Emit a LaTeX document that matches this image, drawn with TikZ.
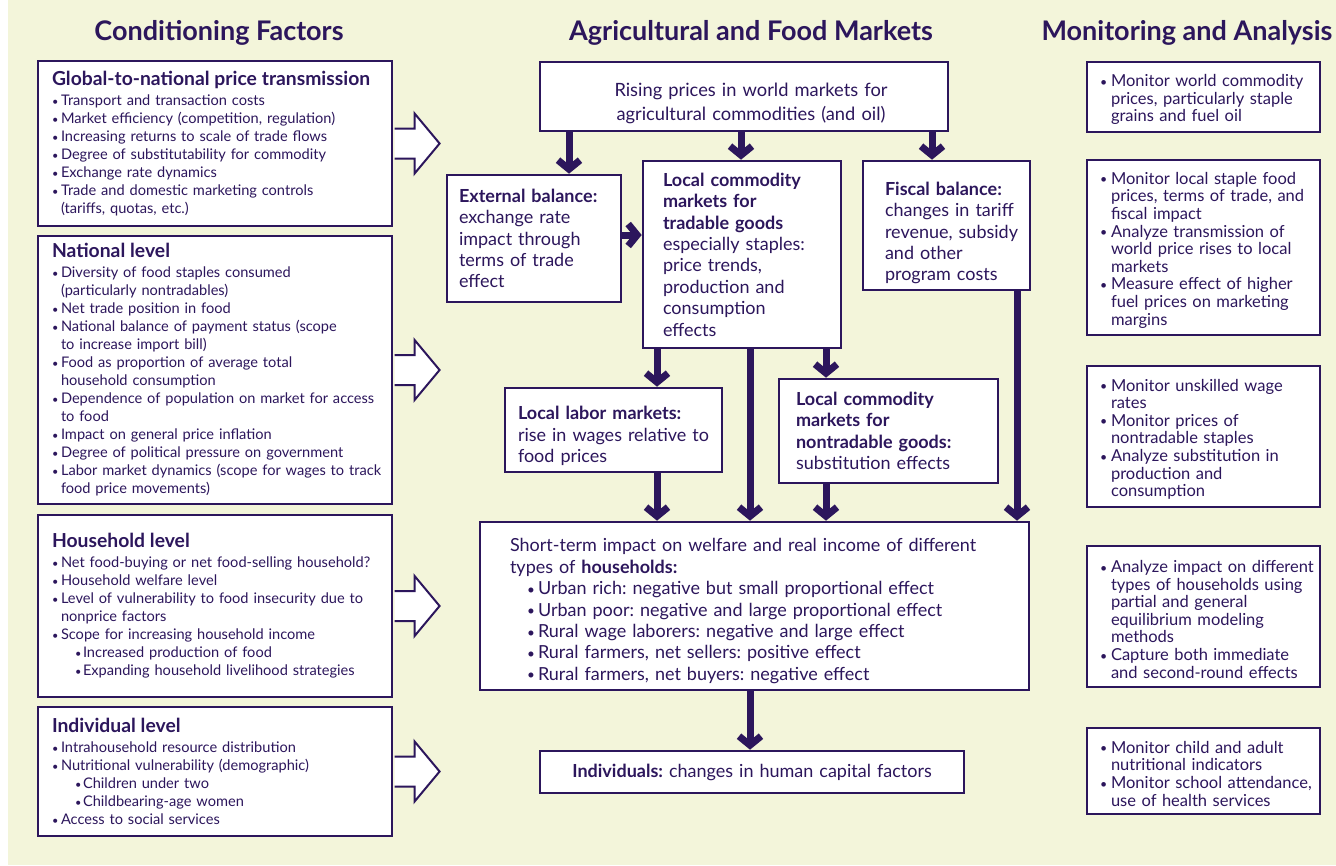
\documentclass[tikz,border=0pt]{standalone}
\usepackage{fontspec}
\setmainfont{Lato}
\usetikzlibrary{arrows.meta}
\definecolor{dk}{RGB}{44,22,92}
\definecolor{bgc}{RGB}{243,245,218}
\newcommand\bul{\raisebox{0.4pt}{\scalebox{0.75}{\textbullet}}}
\newcommand\bl[2][9pt]{\par\noindent\hangindent=#1\hangafter=1\hbox to #1{\bul\hfil}#2}
\newcommand\sbl[1]{\par\noindent\hskip23pt\hbox to 8pt{\bul\hfil}#1}
\newcommand\hbl[1]{\par\noindent\hskip17pt\hbox to 11pt{\bul\hfil}#1}
\newcommand\ltitle[1]{{\fontsize{19.3}{20}\selectfont\bfseries #1\par}\vskip2pt}
\newcommand\lfnt{\fontsize{14.6}{18}\selectfont\parindent=0pt\frenchspacing}
\newcommand\mfnt{\fontsize{18}{21.4}\selectfont\parindent=0pt\frenchspacing}
\newcommand\rfnt{\fontsize{16.5}{17.6}\selectfont\parindent=0pt\frenchspacing}
\begin{document}
\begin{tikzpicture}[x=1pt,y=-1pt,
  box/.style={draw=dk, line width=2.6pt, fill=white, text=dk, inner sep=0pt, align=left},
  bx/.style 2 args={box, text width=#1, minimum height=#2},
  hdr/.style={font=\fontsize{27}{30}\selectfont\bfseries, text=dk, inner sep=0pt},
  arr/.style={draw=dk, line width=7pt, -{Straight Barb[length=9pt,width=22pt]}},
  hol/.style={draw=dk, line width=2pt, fill=white, line join=miter}]
\useasboundingbox (0,0) rectangle (1336,865);
\fill[white] (0,0) rectangle (1336,865);
\fill[bgc] (8,0) rectangle (1336,865);

% headers
\node[hdr] (h1) at (219,33) {Conditioning Factors};
\node[hdr] (h2) at (751,33) {Agricultural and Food Markets};
\node[hdr] (h3) at (1187,33) {Monitoring and Analysis};

% left column
\node[bx={354pt}{165pt}, font=\lfnt] (g1) at (215,143.5) {\leftskip=14pt
\ltitle{Global-to-national price transmission}
\bl{Transport and transaction costs}
\bl{Market efficiency (competition, regulation)}
\bl{Increasing returns to scale of trade flows}
\bl{Degree of substitutability for commodity}
\bl{Exchange rate dynamics}
\bl{Trade and domestic marketing controls\newline (tariffs, quotas, etc.)}\par};

\node[bx={354pt}{268pt}, font=\lfnt] (g2) at (215,370) {\leftskip=14pt
\ltitle{National level}
\bl{Diversity of food staples consumed\newline (particularly nontradables)}
\bl{Net trade position in food}
\bl{National balance of payment status (scope\newline to increase import bill)}
\bl{Food as proportion of average total\newline household consumption}
\bl{Dependence of population on market for access\newline to food}
\bl{Impact on general price inflation}
\bl{Degree of political pressure on government}
\bl{Labor market dynamics (scope for wages to track\newline food price movements)}\par};

\node[bx={354pt}{182pt}, font=\lfnt] (g3) at (215,606) {\leftskip=14pt
\ltitle{Household level}
\bl{Net food-buying or net food-selling household?}
\bl{Household welfare level}
\bl{Level of vulnerability to food insecurity due to\newline nonprice factors}
\bl{Scope for increasing household income}
\sbl{Increased production of food}
\sbl{Expanding household livelihood strategies}\par};

\node[bx={354pt}{129pt}, font=\lfnt] (g4) at (215,771.5) {\leftskip=14pt
\ltitle{Individual level}
\bl{Intrahousehold resource distribution}
\bl{Nutritional vulnerability (demographic)}
\sbl{Children under two}
\sbl{Childbearing-age women}
\bl{Access to social services}\par};

% hollow arrows
\foreach \b in {g1,g2,g3,g4}{
  \draw[hol] ([xshift=1.3pt]\b.east) ++(0,-15) -- ++(20,0) -- ++(0,-15) -- ++(25,30) -- ++(-25,30) -- ++(0,-15) -- ++(-20,0);
}

% middle column
\node[bx={408pt}{69pt}, font=\fontsize{18.3}{24}\selectfont\frenchspacing] (top) at (744,96.5)
  {\vskip4pt\leftskip=14pt plus 1fil\rightskip=0pt plus 1fil\parfillskip=0pt\parindent=0pt
   Rising prices in world markets for\break agricultural commodities (and oil)\par};
\node[bx={174pt}{127pt}, font=\mfnt] (ext) at (534,238.5) {\leftskip=12pt
\textbf{External balance:}\newline exchange rate\newline impact through\newline terms of trade\newline effect\par};
\node[bx={198pt}{187pt}, font=\mfnt] (trad) at (742,254.5) {\leftskip=20pt
\textbf{Local commodity\newline markets for\newline tradable goods}\newline especially staples:\newline price trends,\newline production and\newline consumption\newline effects\par};
\node[bx={167pt}{129pt}, font=\mfnt] (fis) at (946.5,225.5) {\vskip7pt\leftskip=22pt
\textbf{Fiscal balance:}\newline changes in tariff\newline revenue, subsidy\newline and other\newline program costs\par};
\node[bx={217pt}{84pt}, font=\mfnt] (lab) at (613.5,430) {\vskip4pt\leftskip=13pt
\textbf{Local labor markets:}\newline rise in wages relative to\newline food prices\par};
\node[bx={219pt}{104pt}, font=\mfnt] (nont) at (888.5,431) {\leftskip=17pt
\textbf{Local commodity\newline markets for\newline nontradable goods:}\newline substitution effects\par};
\node[bx={549pt}{168pt}, font=\mfnt] (hh) at (754.5,606) {\vskip2pt\leftskip=30pt
Short-term impact on welfare and real income of different\newline types of \textbf{households:}
\hbl{Urban rich: negative but small proportional effect}
\hbl{Urban poor: negative and large proportional effect}
\hbl{Rural wage laborers: negative and large effect}
\hbl{Rural farmers, net sellers: positive effect}
\hbl{Rural farmers, net buyers: negative effect}\par};
\node[bx={424pt}{42pt}, font=\mfnt, align=center] (ind) at (752,772)
  {\textbf{Individuals:} changes in human capital factors};

% right column
\node[bx={233pt}{70pt}, font=\rfnt] (r1) at (1203.5,97) {\leftskip=13pt
\bl[11pt]{Monitor world commodity\newline prices, particularly staple\newline grains and fuel oil}\par};
\node[bx={233pt}{175pt}, font=\rfnt] (r2) at (1203.5,247.5) {\leftskip=13pt
\bl[11pt]{Monitor local staple food\newline prices, terms of trade, and\newline fiscal impact}
\bl[11pt]{Analyze transmission of\newline world price rises to local\newline markets}
\bl[11pt]{Measure effect of higher\newline fuel prices on marketing\newline margins}\par};
\node[bx={233pt}{141pt}, font=\rfnt] (r3) at (1203.5,436.5) {\leftskip=13pt
\bl[11pt]{Monitor unskilled wage\newline rates}
\bl[11pt]{Monitor prices of\newline nontradable staples}
\bl[11pt]{Analyze substitution in\newline production and\newline consumption}\par};
\node[bx={233pt}{141pt}, font=\rfnt] (r4) at (1203.5,616.5) {\leftskip=13pt
\bl[11pt]{Analyze impact on different\newline types of households using\newline partial and general\newline equilibrium modeling\newline methods}
\bl[11pt]{Capture both immediate\newline and second-round effects}\par};
\node[bx={233pt}{86pt}, font=\rfnt] (r5) at (1203.5,771) {\leftskip=13pt
\bl[11pt]{Monitor child and adult\newline nutritional indicators}
\bl[11pt]{Monitor school attendance,\newline use of health services}\par};

% arrow x positions
\coordinate (xa) at (569,0);
\coordinate (xb) at (741,0);
\coordinate (xc) at (932,0);
\coordinate (xd) at (657,0);
\coordinate (xe) at (750,0);
\coordinate (xf) at (826,0);
\coordinate (xg) at (1017,0);
\coordinate (ye) at (0,235);

\draw[arr] (top.south -| xa) -- (ext.north -| xa);
\draw[arr] (top.south -| xb) -- (trad.north -| xb);
\draw[arr] (top.south -| xc) -- (fis.north -| xc);
\draw[arr] (ext.east |- ye) -- (trad.west |- ye);
\draw[arr] (trad.south -| xd) -- (lab.north -| xd);
\draw[arr] (trad.south -| xe) -- (hh.north -| xe);
\draw[arr] (trad.south -| xf) -- (nont.north -| xf);
\draw[arr] (fis.south -| xg) -- (hh.north -| xg);
\draw[arr] (lab.south -| xd) -- (hh.north -| xd);
\draw[arr] (nont.south -| xf) -- (hh.north -| xf);
\draw[arr] (hh.south -| xe) -- (ind.north -| xe);
\end{tikzpicture}
\end{document}
